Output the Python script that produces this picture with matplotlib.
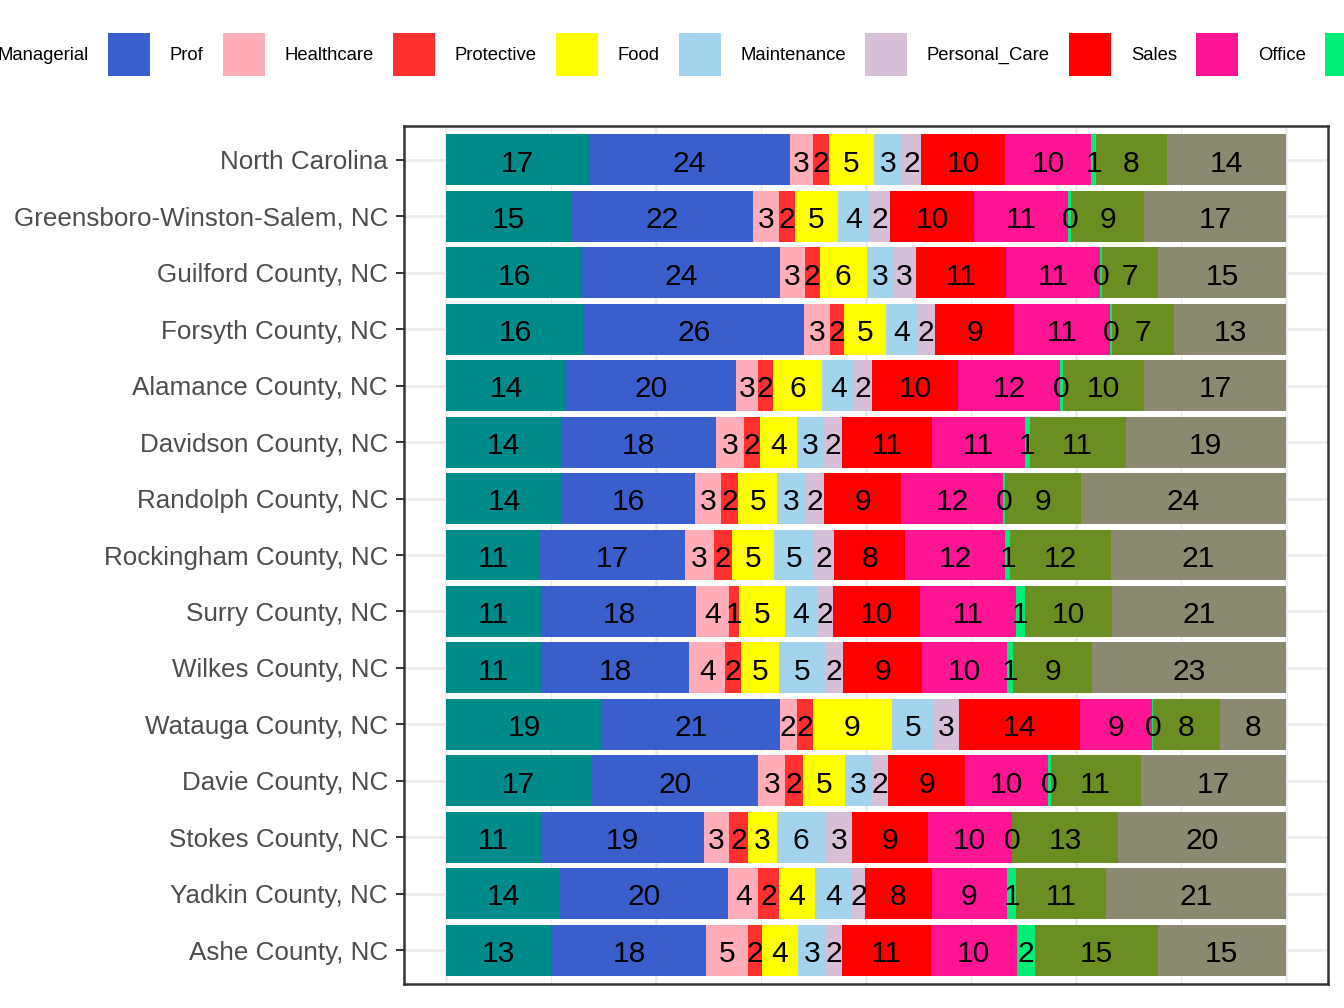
import matplotlib
matplotlib.use('Agg')
import matplotlib.pyplot as plt
import matplotlib.patches as mpatches
import matplotlib.transforms as mtransforms
import numpy as np


# Data: share of employed people (%) by occupation group, per area.
areas = [
    'North Carolina', 'Greensboro-Winston-Salem, NC', 'Guilford County, NC',
    'Forsyth County, NC', 'Alamance County, NC', 'Davidson County, NC',
    'Randolph County, NC', 'Rockingham County, NC', 'Surry County, NC',
    'Wilkes County, NC', 'Watauga County, NC', 'Davie County, NC',
    'Stokes County, NC', 'Yadkin County, NC', 'Ashe County, NC',
]
occupations = [
    'Managerial', 'Prof', 'Healthcare', 'Protective', 'Food', 'Maintenance',
    'Personal_Care', 'Sales', 'Office', 'Farming', 'Construction',
    'Production',
]
managerial = [17.1, 14.9, 16.2, 16.4, 14.3, 13.7, 13.8, 11.1, 11.3, 11.3, 18.6, 17.3, 11.3, 13.6, 12.6]
prof = [23.8, 21.7, 23.6, 26.1, 20.2, 18.4, 15.9, 17.3, 18.4, 17.6, 21.1, 19.9, 19.4, 20.0, 18.4]
healthcare = [2.8, 3.1, 2.9, 3.1, 2.6, 3.4, 3.0, 3.4, 3.8, 4.3, 2.0, 3.2, 3.0, 3.6, 5.0]
protective = [1.9, 1.8, 1.8, 1.7, 1.8, 1.9, 2.1, 2.1, 1.3, 1.8, 1.9, 2.1, 2.3, 2.4, 1.7]
food = [5.3, 5.2, 5.6, 5.0, 5.9, 4.4, 4.6, 5.0, 5.4, 4.6, 9.4, 5.0, 3.4, 4.3, 4.2]
maintenance = [3.4, 3.7, 3.1, 3.6, 3.8, 3.2, 3.4, 4.8, 3.8, 5.4, 5.0, 3.2, 5.8, 4.4, 3.4]
personal_care = [2.3, 2.4, 2.7, 2.2, 2.1, 2.1, 2.2, 2.4, 1.9, 2.2, 3.0, 1.9, 3.2, 1.6, 1.9]
sales = [10.0, 10.1, 10.8, 9.4, 10.3, 10.8, 9.2, 8.4, 10.3, 9.4, 14.4, 9.2, 9.0, 7.9, 10.6]
office = [10.2, 11.2, 11.2, 11.4, 12.1, 11.0, 12.1, 11.9, 11.4, 10.0, 8.6, 9.9, 10.0, 9.0, 10.2]
farming = [0.6, 0.3, 0.2, 0.2, 0.3, 0.6, 0.3, 0.6, 1.0, 0.8, 0.1, 0.3, 0.1, 1.1, 2.2]
construction = [8.4, 8.7, 6.7, 7.4, 9.7, 11.4, 9.0, 11.9, 10.4, 9.4, 7.9, 10.7, 12.6, 10.7, 14.6]
production = [14.2, 16.9, 15.2, 13.3, 16.9, 19.1, 24.4, 20.8, 20.6, 23.0, 7.9, 17.3, 20.0, 21.4, 15.3]

colors = [
    '#008B8B', '#3A5FCD', '#FFAEB9', '#FF3030', '#FFFF00', '#A4D3EE',
    '#D8BFD8', '#FF0000', '#FF1493', '#00EE76', '#6B8E23', '#8B8970',
]


# Style, roughly ggplot theme_bw.
plt.rcParams['font.family'] = ['Liberation Sans', 'DejaVu Sans']
border = '#333333'
gridc = '#EBEBEB'

shares = np.array([managerial, prof, healthcare, protective, food,
                   maintenance, personal_care, sales, office, farming,
                   construction, production])
fill = shares / shares.sum(axis=0)          # position = "fill"
left = np.cumsum(fill, axis=0) - fill

W, H = 1344, 1008
fig = plt.figure(figsize=(W / 100, H / 100), dpi=100)
ax = fig.add_axes((404 / W, 24 / H, 924 / W, 858 / H))

# Labels sit on their baseline, shifted down so the digits look centred.
label_tf = mtransforms.offset_copy(ax.transData, fig=fig, y=-11.8,
                                   units='dots')

y = np.arange(len(areas))
for k, occ in enumerate(occupations):
    ax.barh(y, fill[k], left=left[k], height=0.9, color=colors[k],
            linewidth=0, label=occ, zorder=2)
    for j in range(len(areas)):
        ax.text(left[k, j] + fill[k, j] / 2, y[j], f'{shares[k, j]:.0f}',
                ha='center', va='baseline', fontsize=21.6, color='black',
                transform=label_tf, zorder=3)

# Axes.
ax.set_xlim(-0.05, 1.05)
ax.set_ylim(len(areas) - 0.4, -0.6)
ax.set_xticks([0, 0.25, 0.5, 0.75, 1])
ax.set_xticks(np.arange(0.125, 1, 0.25), minor=True)
ax.set_yticks(y, areas)
ax.set_axisbelow(True)
ax.grid(which='major', color=gridc, linewidth=1.8)
ax.grid(which='minor', axis='x', color=gridc, linewidth=0.9)
ax.tick_params(axis='x', which='both', length=0, labelbottom=False)
ax.tick_params(axis='y', length=5.8, width=1.4, color=border, pad=5.8,
               labelsize=18.7, labelcolor='#4D4D4D')
for s in ax.spines.values():
    s.set_color(border)
    s.set_linewidth(1.8)

# Legend: one row on top, wider than the figure (clipped on both sides).
handles = [mpatches.Patch(facecolor=c, linewidth=0) for c in colors]
leg = fig.legend(handles, occupations, ncol=len(occupations),
                 loc='center left', bbox_to_anchor=(0, 0.946),
                 frameon=False, fontsize=13.3, handlelength=2.28,
                 handleheight=3.2, handletextpad=1.06, columnspacing=1.04,
                 borderpad=0, borderaxespad=0)
fig.canvas.draw()
ext = leg.legend_handles[1].get_window_extent()
dx = 108 - ext.x0
dy = (H - 54.5) - (ext.y0 + ext.y1) / 2
leg.set_bbox_to_anchor((dx / W, 0.946 + dy / H))

fig.savefig('out.png', dpi=100, facecolor='white')
